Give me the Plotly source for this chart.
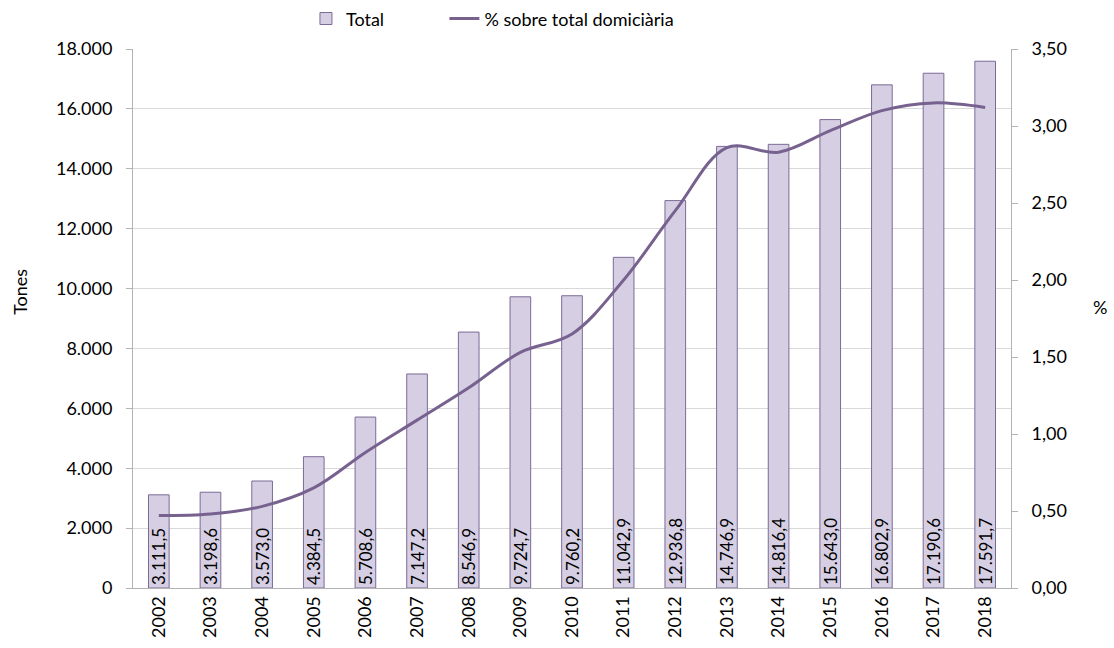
import plotly.graph_objects as go

years = [str(y) for y in range(2002, 2019)]
total_tones = [3111.5, 3198.6, 3573.0, 4384.5, 5708.6, 7147.2, 8546.9, 9724.7, 9760.2,
               11042.9, 12936.8, 14746.9, 14816.4, 15643.0, 16802.9, 17190.6, 17591.7]
pct_domiciliaria = [0.47, 0.48, 0.53, 0.65, 0.88, 1.09, 1.30, 1.53, 1.65,
                    2.00, 2.45, 2.86, 2.83, 2.97, 3.10, 3.15, 3.12]

left_ticks = list(range(0, 18001, 2000))
right_ticks = [0, 0.5, 1.0, 1.5, 2.0, 2.5, 3.0, 3.5]

FONT = "Lato, 'Open Sans', sans-serif"
AXIS_GREY = "#b3b3b3"
GRID_GREY = "#d9d9d9"

fig = go.Figure()
fig.add_trace(go.Bar(
    x=years, y=total_tones, name="Total" + "\u00a0" * 12,
    marker={"color": "#d6cfe3", "line": {"color": "#7b6a96", "width": 1}},
    texttemplate="%{y:,.1f}", textposition="inside", insidetextanchor="start",
    textangle=-90, constraintext="none",
    insidetextfont={"size": 17, "color": "#000000", "family": FONT},
))
fig.add_trace(go.Scatter(
    x=years, y=pct_domiciliaria, name="% sobre total domiciària", yaxis="y2",
    mode="lines", line={"color": "#77628f", "width": 3, "shape": "spline", "smoothing": 1.0},
))

fig.update_layout(
    width=1114, height=648,
    margin={"l": 133, "r": 103, "t": 49, "b": 60, "autoexpand": False},
    paper_bgcolor="white", plot_bgcolor="white",
    separators=",.",
    font={"family": FONT, "size": 18, "color": "#000000"},
    bargap=0.6,
    showlegend=True,
    legend={"orientation": "h", "x": 0.197, "y": 1.056, "xanchor": "left", "yanchor": "middle",
            "font": {"size": 18}},
    xaxis={"type": "category", "tickangle": -90, "showline": True, "linecolor": AXIS_GREY,
           "linewidth": 1, "ticks": "", "showgrid": False, "tickfont": {"size": 18},
           "automargin": False},
    yaxis={"range": [0, 18000], "tickvals": left_ticks, "tickformat": ",d",
           "showgrid": True, "gridcolor": GRID_GREY, "showline": True, "linecolor": AXIS_GREY,
           "ticks": "outside", "ticklen": 6, "tickcolor": AXIS_GREY, "ticklabelstandoff": 10,
           "zeroline": False, "automargin": False},
    yaxis2={"range": [0, 3.5], "tickvals": right_ticks, "tickformat": ".2f",
            "overlaying": "y", "side": "right", "showgrid": False, "showline": True,
            "linecolor": AXIS_GREY, "ticks": "outside", "ticklen": 6, "tickcolor": AXIS_GREY,
            "ticklabelstandoff": 10, "zeroline": False, "automargin": False},
    annotations=[
        {"text": "Tones", "xref": "paper", "yref": "paper", "x": -0.129, "y": 0.549,
         "xanchor": "center", "yanchor": "middle",
         "textangle": -90, "showarrow": False, "font": {"size": 18}},
        {"text": "%", "xref": "paper", "yref": "paper", "x": 1.101, "y": 0.521,
         "xanchor": "center", "yanchor": "middle",
         "showarrow": False, "font": {"size": 18}},
    ],
)

fig.write_html("out.html", config={"displayModeBar": False})

# drop the browser's default body margin so the figure sits at the page origin
with open("out.html", encoding="utf-8") as fh:
    page = fh.read()
page = page.replace("<body>", '<body style="margin:0">', 1)
with open("out.html", "w", encoding="utf-8") as fh:
    fh.write(page)
